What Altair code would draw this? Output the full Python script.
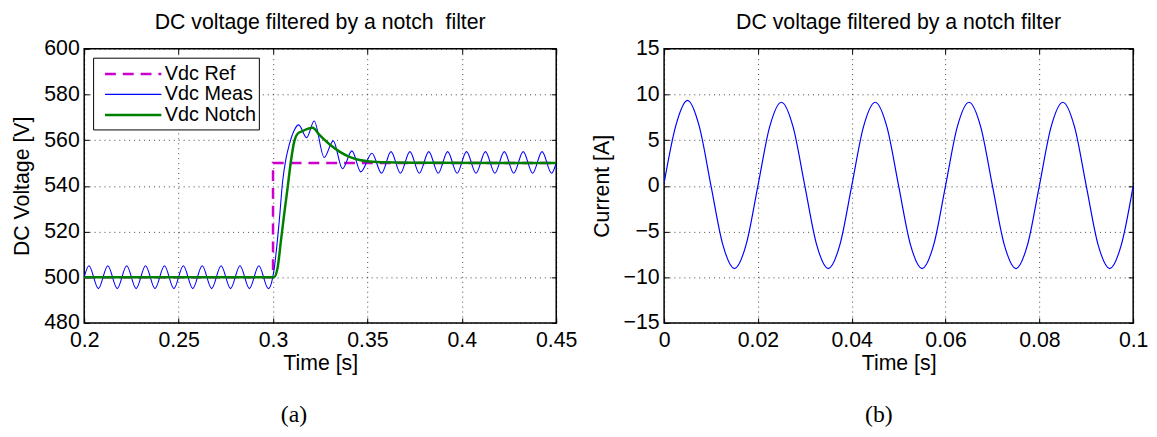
import altair as alt
import pandas as pd

# ---------------- Panel (a): DC voltage ----------------
ref_t = [0.2, 0.3, 0.3, 0.45]
ref_v = [500, 500, 550, 550]

meas_t = [0.2000, 0.2025, 0.2075, 0.2125, 0.2175, 0.2225, 0.2275, 0.2325, 0.2375, 0.2425, 0.2475,
          0.2525, 0.2575, 0.2625, 0.2675, 0.2725, 0.2775, 0.2825, 0.2875, 0.2925, 0.2975,
          0.3005, 0.3033, 0.3051, 0.3069, 0.3086, 0.3113, 0.3136, 0.3178, 0.3218, 0.3271,
          0.3319, 0.3368, 0.3418, 0.3465, 0.3524,
          0.3575, 0.3625, 0.3675, 0.3725, 0.3775, 0.3825, 0.3875, 0.3925, 0.3975, 0.4025,
          0.4075, 0.4125, 0.4175, 0.4225, 0.4275, 0.4325, 0.4375, 0.4425, 0.4475, 0.4500]
meas_v = [500, 505, 495, 505, 495, 505, 495, 505, 495, 505, 495,
          505, 495, 505, 495, 505, 495, 505, 495, 505, 495,
          503, 524.6, 542, 552, 558, 564.5, 566.7, 561.1, 568.4, 552.4,
          559.7, 547.5, 555.3, 546.1, 554.3,
          545.5, 555, 545.5, 555, 545.5, 555, 545.5, 555, 545.5, 555,
          545.5, 555, 545.5, 555, 545.5, 555, 545.5, 555, 545.5, 550]

notch_t = [0.2, 0.3005, 0.3024, 0.3042, 0.3059, 0.3077, 0.3095, 0.3113, 0.3130, 0.3157,
           0.3210, 0.3246, 0.3299, 0.3352, 0.3405, 0.3458, 0.3511, 0.3600, 0.3800, 0.4500]
notch_v = [500, 500, 504, 516, 527.5, 539, 550.9, 559.6, 562.8, 564,
           565.4, 562.3, 558.2, 555, 552.7, 551.3, 550.7, 550.3, 550.1, 550]

series_names = ["Vdc Ref", "Vdc Meas", "Vdc Notch"]

# ---------------- Panel (b): current ----------------
cur_t = [0.0, 0.0025, 0.005, 0.0075, 0.01, 0.0125, 0.015, 0.0175,
         0.02, 0.0225, 0.025, 0.0275, 0.03, 0.0325, 0.035, 0.0375,
         0.04, 0.0425, 0.045, 0.0475, 0.05, 0.0525, 0.055, 0.0575,
         0.06, 0.0625, 0.065, 0.0675, 0.07, 0.0725, 0.075, 0.0775,
         0.08, 0.0825, 0.085, 0.0875, 0.09, 0.0925, 0.095, 0.0975, 0.1]
cur_v = [0.3, 6.6, 9.35, 6.5, 0.0, -6.4, -9.05, -6.4,
         0.0, 6.45, 9.15, 6.45, 0.0, -6.4, -9.05, -6.4,
         0.0, 6.45, 9.15, 6.45, 0.0, -6.4, -9.05, -6.4,
         0.0, 6.45, 9.15, 6.45, 0.0, -6.4, -9.05, -6.4,
         0.0, 6.45, 9.15, 6.45, 0.0, -6.4, -9.05, -6.4, 0.0]

xa_ticks = [0.2, 0.25, 0.3, 0.35, 0.4, 0.45]
ya_ticks = [480, 500, 520, 540, 560, 580, 600]
xb_ticks = [0, 0.02, 0.04, 0.06, 0.08, 0.1]
yb_ticks = [-15, -10, -5, 0, 5, 10, 15]

FONT = "Liberation Sans"
SERIF = "Liberation Serif"
FS = 21.5
LFS = 20
W1, W2, H = 477, 474, 277


def main_axis(values, title, orient, lpad, tpad):
    return alt.Axis(values=values, title=title, orient=orient, format="~r",
                    grid=True, gridDash=[1, 4], gridColor="#000000", gridOpacity=0.75,
                    gridWidth=1, domain=False, ticks=True, tickSize=5, tickColor="#000000",
                    tickWidth=1, offset=-5, labelFont=FONT, labelFontSize=FS,
                    labelColor="#000000", labelPadding=lpad, labelFlush=False,
                    labelOverlap=False, titleFont=FONT, titleFontSize=FS,
                    titleFontWeight="normal", titleColor="#000000", titlePadding=tpad)


def inner_axis(values, orient):
    return alt.Axis(values=values, orient=orient, title=None, labels=False, grid=False,
                    domain=False, ticks=True, tickSize=5, tickColor="#000000",
                    tickWidth=1, offset=-5, minExtent=0, maxExtent=0)


one = pd.DataFrame({"k": [0]})

# ----- left panel -----
ref_df = pd.DataFrame({"t": ref_t, "v": ref_v, "i": list(range(len(ref_t)))})
meas_df = pd.DataFrame({"t": meas_t, "v": meas_v})
notch_df = pd.DataFrame({"t": notch_t, "v": notch_v})

xsa = alt.Scale(domain=[0.2, 0.45], nice=False, zero=False)
ysa = alt.Scale(domain=[480, 600], nice=False, zero=False)

ref_line = alt.Chart(ref_df).mark_line(color="#cc00cc", strokeWidth=2.5,
                                       strokeDash=[11, 7], clip=True).encode(
    x=alt.X("t:Q", scale=xsa, axis=main_axis(xa_ticks, "Time [s]", "bottom", 7, 2)),
    y=alt.Y("v:Q", scale=ysa, axis=main_axis(ya_ticks, "DC Voltage [V]", "left", 5, 10)),
    order="i:O",
)
meas_line = alt.Chart(meas_df).mark_line(color="#0000ff", strokeWidth=1.1,
                                         interpolate="monotone", clip=True).encode(
    x=alt.X("t:Q", scale=xsa, axis=None),
    y=alt.Y("v:Q", scale=ysa, axis=None),
)
notch_line = alt.Chart(notch_df).mark_line(color="#008000", strokeWidth=2.5,
                                           interpolate="monotone", clip=True).encode(
    x=alt.X("t:Q", scale=xsa, axis=None),
    y=alt.Y("v:Q", scale=ysa, axis=None),
)
inner_a = alt.Chart(pd.DataFrame({"t": [0.2, 0.45], "v": [480, 600]})).mark_point(opacity=0).encode(
    x=alt.X("t:Q", scale=xsa, axis=inner_axis(xa_ticks, "top")),
    y=alt.Y("v:Q", scale=ysa, axis=inner_axis(ya_ticks, "right")),
)

leg_box = alt.Chart(one).mark_rect(fill="white", stroke="black", strokeWidth=1).encode(
    x=alt.value(9.5), x2=alt.value(177), y=alt.value(9.5), y2=alt.value(82))
leg_colors = ["#cc00cc", "#0000ff", "#008000"]
leg_widths = [2.5, 1.2, 2.5]
leg_dash = [[11, 7], [1, 0], [1, 0]]
leg_rows = [25.5, 46, 67]
leg_layers = [leg_box]
for name, c, w, d, yy in zip(series_names, leg_colors, leg_widths, leg_dash, leg_rows):
    leg_layers.append(alt.Chart(one).mark_rule(color=c, strokeWidth=w, strokeDash=d).encode(
        x=alt.value(21), x2=alt.value(78), y=alt.value(yy)))
    leg_layers.append(alt.Chart(one).mark_text(text=name, font=FONT, fontSize=LFS, align="left",
                                               baseline="middle", color="#000000").encode(
        x=alt.value(81.5), y=alt.value(yy)))

cap_a = alt.Chart(one).mark_text(text="(a)", font=SERIF, fontSize=24, color="#000000").encode(
    x=alt.value(212), y=alt.value(370))

left = alt.layer(ref_line, meas_line, notch_line, inner_a, *leg_layers, cap_a).resolve_axis(
    x="independent", y="independent").properties(
    width=W1, height=H,
    title=alt.TitleParams("DC voltage filtered by a notch\u00a0 filter", font=FONT, fontSize=FS,
                          fontWeight="normal", color="#000000", offset=5))

# ----- right panel -----
cur_df = pd.DataFrame({"t": cur_t, "v": cur_v})
xsb = alt.Scale(domain=[0, 0.1], nice=False, zero=False)
ysb = alt.Scale(domain=[-15, 15], nice=False, zero=False)

cur_line = alt.Chart(cur_df).mark_line(color="#0000ff", strokeWidth=1.2,
                                       interpolate="monotone", clip=True).encode(
    x=alt.X("t:Q", scale=xsb, axis=main_axis(xb_ticks, "Time [s]", "bottom", 7, 2)),
    y=alt.Y("v:Q", scale=ysb, axis=main_axis(yb_ticks, "Current [A]", "left", 5, 10)),
)
inner_b = alt.Chart(pd.DataFrame({"t": [0, 0.1], "v": [-15, 15]})).mark_point(opacity=0).encode(
    x=alt.X("t:Q", scale=xsb, axis=inner_axis(xb_ticks, "top")),
    y=alt.Y("v:Q", scale=ysb, axis=inner_axis(yb_ticks, "right")),
)
cap_b = alt.Chart(one).mark_text(text="(b)", font=SERIF, fontSize=24, color="#000000").encode(
    x=alt.value(217), y=alt.value(370))

right = alt.layer(cur_line, inner_b, cap_b).resolve_axis(
    x="independent", y="independent").properties(
    width=W2, height=H,
    title=alt.TitleParams("DC voltage filtered by a notch filter", font=FONT, fontSize=FS,
                          fontWeight="normal", color="#000000", offset=5))

chart = alt.hconcat(left, right, spacing=109, bounds="flush").properties(
    padding={"left": 3, "top": 0, "right": 0, "bottom": 0},
    background="white",
).configure_view(stroke="#000000", strokeWidth=1.5)

chart.save("out.html", embed_options={"renderer": "svg", "actions": False})
